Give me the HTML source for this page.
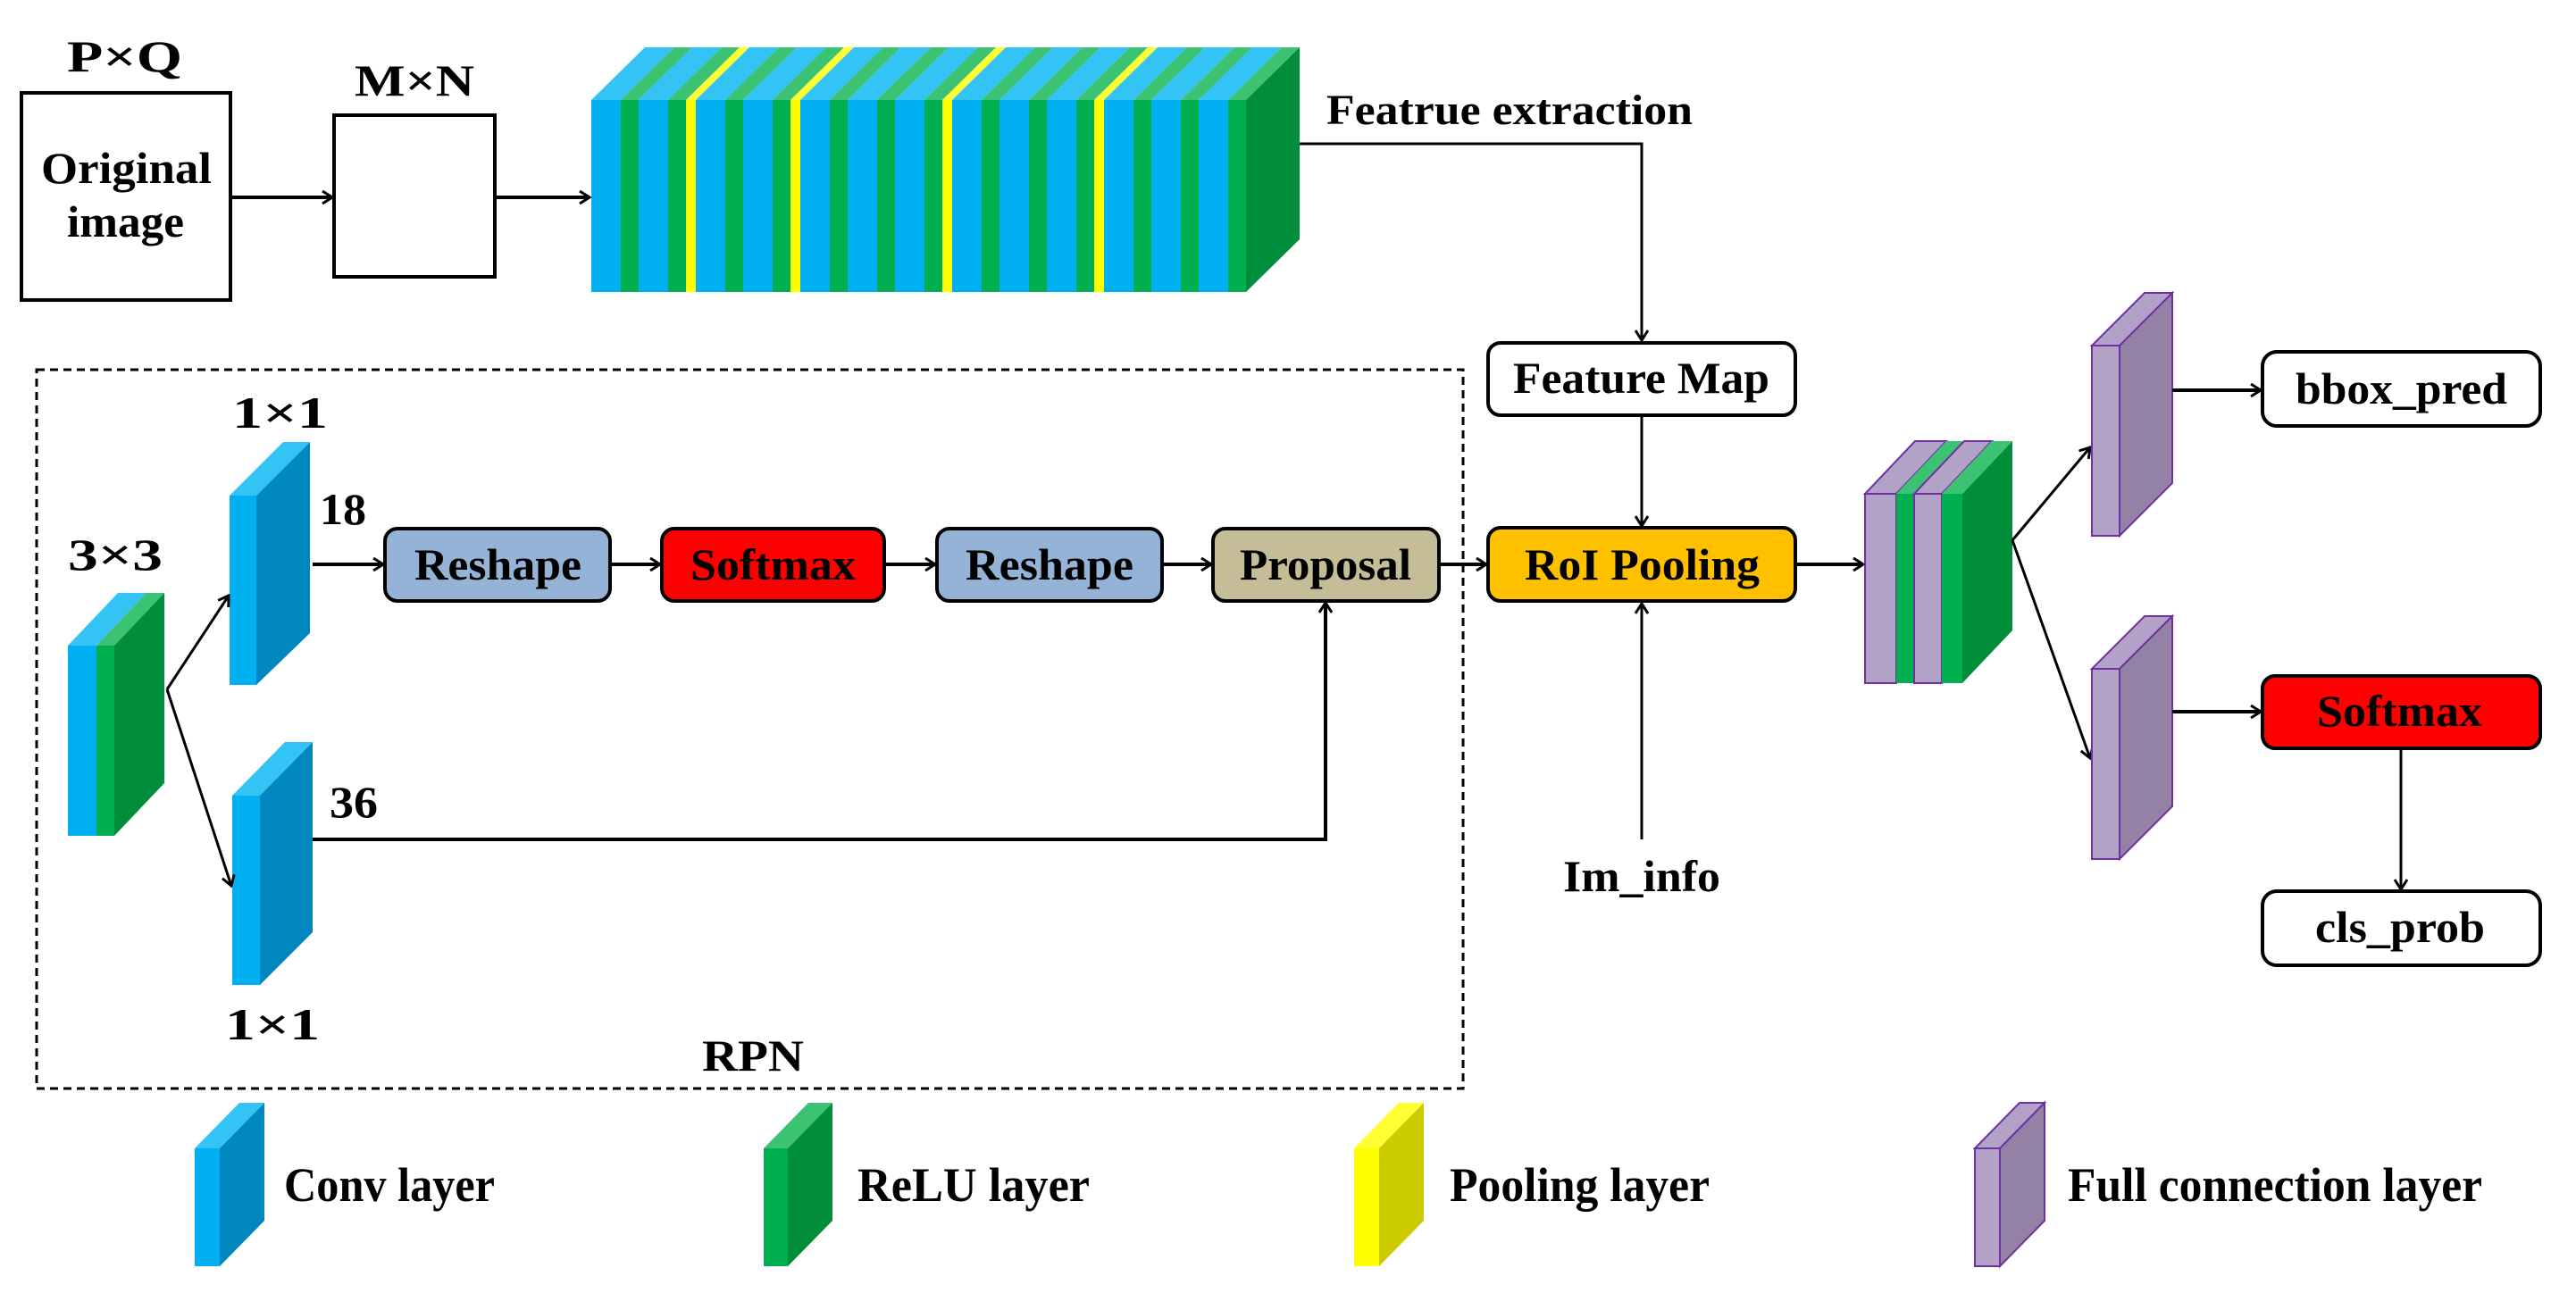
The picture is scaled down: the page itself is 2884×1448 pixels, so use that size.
<!DOCTYPE html>
<html><head><meta charset="utf-8"><style>
html,body{margin:0;padding:0;background:#fff;}
svg{display:block;}
text{font-family:"Liberation Serif",serif;font-weight:bold;fill:#000;}
</style></head><body>
<svg width="2884" height="1448" viewBox="0 0 2884 1448" xmlns="http://www.w3.org/2000/svg">
<defs>
<marker id="a" markerWidth="14" markerHeight="16" refX="12" refY="8" orient="auto" markerUnits="userSpaceOnUse">
<path d="M1,1 L12,8 L1,15" fill="none" stroke="#000" stroke-width="3"/>
</marker>
</defs>

<!-- Top row -->
<text x="75" y="80" font-size="50" textLength="129" lengthAdjust="spacingAndGlyphs">P×Q</text>
<rect x="24" y="104" width="234" height="232" fill="#fff" stroke="#000" stroke-width="4"/>
<text x="46" y="205" font-size="50" textLength="191" lengthAdjust="spacingAndGlyphs">Original</text>
<text x="75" y="265" font-size="50" textLength="131" lengthAdjust="spacingAndGlyphs">image</text>
<line x1="258" y1="221" x2="372" y2="221" stroke="#000" stroke-width="4" marker-end="url(#a)"/>
<text x="397" y="107" font-size="50" textLength="134" lengthAdjust="spacingAndGlyphs">M×N</text>
<rect x="374" y="129" width="180" height="181" fill="#fff" stroke="#000" stroke-width="4"/>
<line x1="554" y1="221" x2="660" y2="221" stroke="#000" stroke-width="4" marker-end="url(#a)"/>

<!-- feature extraction block -->
<g id="fe">
<!-- fronts -->
<g stroke="none">
<rect x="662" y="112" width="33" height="215" fill="#00B0F0"/><rect x="695" y="112" width="20" height="215" fill="#00B050"/>
<rect x="715" y="112" width="33" height="215" fill="#00B0F0"/><rect x="748" y="112" width="20" height="215" fill="#00B050"/>
<rect x="768" y="112" width="11" height="215" fill="#FFFF00"/>
<rect x="779" y="112" width="33" height="215" fill="#00B0F0"/><rect x="812" y="112" width="20" height="215" fill="#00B050"/>
<rect x="832" y="112" width="33" height="215" fill="#00B0F0"/><rect x="865" y="112" width="20" height="215" fill="#00B050"/>
<rect x="885" y="112" width="11" height="215" fill="#FFFF00"/>
<rect x="896" y="112" width="33" height="215" fill="#00B0F0"/><rect x="929" y="112" width="20" height="215" fill="#00B050"/>
<rect x="949" y="112" width="33" height="215" fill="#00B0F0"/><rect x="982" y="112" width="20" height="215" fill="#00B050"/>
<rect x="1002" y="112" width="33" height="215" fill="#00B0F0"/><rect x="1035" y="112" width="20" height="215" fill="#00B050"/>
<rect x="1055" y="112" width="11" height="215" fill="#FFFF00"/>
<rect x="1066" y="112" width="33" height="215" fill="#00B0F0"/><rect x="1099" y="112" width="20" height="215" fill="#00B050"/>
<rect x="1119" y="112" width="33" height="215" fill="#00B0F0"/><rect x="1152" y="112" width="20" height="215" fill="#00B050"/>
<rect x="1172" y="112" width="33" height="215" fill="#00B0F0"/><rect x="1205" y="112" width="20" height="215" fill="#00B050"/>
<rect x="1225" y="112" width="11" height="215" fill="#FFFF00"/>
<rect x="1236" y="112" width="33" height="215" fill="#00B0F0"/><rect x="1269" y="112" width="20" height="215" fill="#00B050"/>
<rect x="1289" y="112" width="33" height="215" fill="#00B0F0"/><rect x="1322" y="112" width="20" height="215" fill="#00B050"/>
<rect x="1342" y="112" width="33" height="215" fill="#00B0F0"/><rect x="1375" y="112" width="20" height="215" fill="#00B050"/>
</g>
<!-- tops -->
<g>
<polygon points="662,112 695,112 755,53 722,53" fill="#33C3F5"/><polygon points="695,112 715,112 775,53 755,53" fill="#3CC273"/>
<polygon points="715,112 748,112 808,53 775,53" fill="#33C3F5"/><polygon points="748,112 768,112 828,53 808,53" fill="#3CC273"/>
<polygon points="768,112 779,112 839,53 828,53" fill="#FFFF33"/>
<polygon points="779,112 812,112 872,53 839,53" fill="#33C3F5"/><polygon points="812,112 832,112 892,53 872,53" fill="#3CC273"/>
<polygon points="832,112 865,112 925,53 892,53" fill="#33C3F5"/><polygon points="865,112 885,112 945,53 925,53" fill="#3CC273"/>
<polygon points="885,112 896,112 956,53 945,53" fill="#FFFF33"/>
<polygon points="896,112 929,112 989,53 956,53" fill="#33C3F5"/><polygon points="929,112 949,112 1009,53 989,53" fill="#3CC273"/>
<polygon points="949,112 982,112 1042,53 1009,53" fill="#33C3F5"/><polygon points="982,112 1002,112 1062,53 1042,53" fill="#3CC273"/>
<polygon points="1002,112 1035,112 1095,53 1062,53" fill="#33C3F5"/><polygon points="1035,112 1055,112 1115,53 1095,53" fill="#3CC273"/>
<polygon points="1055,112 1066,112 1126,53 1115,53" fill="#FFFF33"/>
<polygon points="1066,112 1099,112 1159,53 1126,53" fill="#33C3F5"/><polygon points="1099,112 1119,112 1179,53 1159,53" fill="#3CC273"/>
<polygon points="1119,112 1152,112 1212,53 1179,53" fill="#33C3F5"/><polygon points="1152,112 1172,112 1232,53 1212,53" fill="#3CC273"/>
<polygon points="1172,112 1205,112 1265,53 1232,53" fill="#33C3F5"/><polygon points="1205,112 1225,112 1285,53 1265,53" fill="#3CC273"/>
<polygon points="1225,112 1236,112 1296,53 1285,53" fill="#FFFF33"/>
<polygon points="1236,112 1269,112 1329,53 1296,53" fill="#33C3F5"/><polygon points="1269,112 1289,112 1349,53 1329,53" fill="#3CC273"/>
<polygon points="1289,112 1322,112 1382,53 1349,53" fill="#33C3F5"/><polygon points="1322,112 1342,112 1402,53 1382,53" fill="#3CC273"/>
<polygon points="1342,112 1375,112 1435,53 1402,53" fill="#33C3F5"/><polygon points="1375,112 1395,112 1455,53 1435,53" fill="#3CC273"/>
</g>
<polygon points="1395,112 1455,53 1455,268 1395,327" fill="#008E3A"/>
</g>

<text x="1485" y="139" font-size="48" textLength="410" lengthAdjust="spacingAndGlyphs">Featrue extraction</text>
<polyline points="1455,161 1838,161 1838,381" fill="none" stroke="#000" stroke-width="3" marker-end="url(#a)"/>

<!-- Feature map, RoI -->
<rect x="1666" y="384" width="344" height="81" rx="14" fill="#fff" stroke="#000" stroke-width="4"/>
<text x="1694" y="440" font-size="50" textLength="287" lengthAdjust="spacingAndGlyphs">Feature Map</text>
<line x1="1838" y1="465" x2="1838" y2="589" stroke="#000" stroke-width="3" marker-end="url(#a)"/>
<rect x="1666" y="591" width="344" height="82" rx="14" fill="#FFC000" stroke="#000" stroke-width="4"/>
<text x="1707" y="649" font-size="50" textLength="263" lengthAdjust="spacingAndGlyphs">RoI Pooling</text>
<line x1="1838" y1="940" x2="1838" y2="676" stroke="#000" stroke-width="3" marker-end="url(#a)"/>
<text x="1750" y="998" font-size="50" textLength="176" lengthAdjust="spacingAndGlyphs">Im_info</text>
<line x1="2010" y1="632" x2="2086" y2="632" stroke="#000" stroke-width="4" marker-end="url(#a)"/>

<!-- FC+ReLU block -->
<rect x="2088" y="553" width="35" height="212" fill="#B3A2C7" stroke="#7030A0" stroke-width="2"/>
<rect x="2123" y="553" width="20" height="212" fill="#00B050"/>
<rect x="2143" y="553" width="31" height="212" fill="#B3A2C7" stroke="#7030A0" stroke-width="2"/>
<rect x="2174" y="553" width="23" height="212" fill="#00B050"/>
<polygon points="2088,553 2123,553 2179,494 2144,494" fill="#B3A2C7" stroke="#7030A0" stroke-width="2"/>
<polygon points="2123,553 2143,553 2199,494 2179,494" fill="#3CC273"/>
<polygon points="2143,553 2174,553 2230,494 2199,494" fill="#B3A2C7" stroke="#7030A0" stroke-width="2"/>
<polygon points="2174,553 2197,553 2253,494 2230,494" fill="#3CC273"/>
<polygon points="2197,553 2253,494 2253,706 2197,765" fill="#008E3A"/>

<line x1="2253" y1="605" x2="2340" y2="501" stroke="#000" stroke-width="3" marker-end="url(#a)"/>
<line x1="2253" y1="605" x2="2340" y2="849" stroke="#000" stroke-width="3" marker-end="url(#a)"/>

<!-- FC upper -->
<polygon points="2342,387 2373,387 2432,328 2401,328" fill="#B3A2C7" stroke="#7030A0" stroke-width="2"/>
<polygon points="2373,387 2432,328 2432,541 2373,600" fill="#9382A6" stroke="#7030A0" stroke-width="2"/>
<rect x="2342" y="387" width="31" height="213" fill="#B3A2C7" stroke="#7030A0" stroke-width="2"/>
<!-- FC lower -->
<polygon points="2342,749 2373,749 2432,690 2401,690" fill="#B3A2C7" stroke="#7030A0" stroke-width="2"/>
<polygon points="2373,749 2432,690 2432,903 2373,962" fill="#9382A6" stroke="#7030A0" stroke-width="2"/>
<rect x="2342" y="749" width="31" height="213" fill="#B3A2C7" stroke="#7030A0" stroke-width="2"/>

<line x1="2432" y1="437" x2="2531" y2="437" stroke="#000" stroke-width="4" marker-end="url(#a)"/>
<rect x="2533" y="394" width="311" height="83" rx="16" fill="#fff" stroke="#000" stroke-width="4"/>
<text x="2570" y="452" font-size="50" textLength="237" lengthAdjust="spacingAndGlyphs">bbox_pred</text>
<line x1="2432" y1="797" x2="2531" y2="797" stroke="#000" stroke-width="4" marker-end="url(#a)"/>
<rect x="2533" y="757" width="311" height="81" rx="14" fill="#FF0000" stroke="#000" stroke-width="4"/>
<text x="2594" y="813" font-size="50" textLength="185" lengthAdjust="spacingAndGlyphs">Softmax</text>
<line x1="2688" y1="838" x2="2688" y2="996" stroke="#000" stroke-width="3" marker-end="url(#a)"/>
<rect x="2533" y="998" width="311" height="83" rx="16" fill="#fff" stroke="#000" stroke-width="4"/>
<text x="2592" y="1055" font-size="50" textLength="190" lengthAdjust="spacingAndGlyphs">cls_prob</text>

<!-- RPN -->
<rect x="41" y="414" width="1597" height="805" fill="none" stroke="#000" stroke-width="3" stroke-dasharray="9,6"/>
<text x="76" y="638" font-size="50" textLength="106" lengthAdjust="spacingAndGlyphs">3×3</text>
<polygon points="76,723 108,723 164,664 132,664" fill="#33C3F5"/>
<polygon points="108,723 128,723 184,664 164,664" fill="#3CC273"/>
<rect x="76" y="723" width="32" height="213" fill="#00B0F0"/>
<rect x="108" y="723" width="20" height="213" fill="#00B050"/>
<polygon points="128,723 184,664 184,877 128,936" fill="#008E3A"/>

<text x="260" y="479" font-size="50" textLength="107" lengthAdjust="spacingAndGlyphs">1×1</text>
<polygon points="257,555 287,555 347,495 317,495" fill="#33C3F5"/>
<rect x="257" y="555" width="30" height="212" fill="#00B0F0"/>
<polygon points="287,555 347,495 347,709 287,767" fill="#0087C0"/>
<text x="358" y="587" font-size="50" textLength="52" lengthAdjust="spacingAndGlyphs">18</text>

<polygon points="260,891 291,891 350,831 319,831" fill="#33C3F5"/>
<rect x="260" y="891" width="31" height="212" fill="#00B0F0"/>
<polygon points="291,891 350,831 350,1044 291,1103" fill="#0087C0"/>
<text x="369" y="915" font-size="50" textLength="54" lengthAdjust="spacingAndGlyphs">36</text>
<text x="252" y="1164" font-size="50" textLength="106" lengthAdjust="spacingAndGlyphs">1×1</text>
<text x="786" y="1199" font-size="50" textLength="114" lengthAdjust="spacingAndGlyphs">RPN</text>

<line x1="187" y1="772" x2="256" y2="667" stroke="#000" stroke-width="3" marker-end="url(#a)"/>
<line x1="187" y1="772" x2="259" y2="992" stroke="#000" stroke-width="3" marker-end="url(#a)"/>

<line x1="350" y1="632" x2="429" y2="632" stroke="#000" stroke-width="4" marker-end="url(#a)"/>
<rect x="431" y="592" width="252" height="81" rx="14" fill="#95B3D7" stroke="#000" stroke-width="4"/>
<text x="464" y="649" font-size="50" textLength="187" lengthAdjust="spacingAndGlyphs">Reshape</text>
<line x1="683" y1="632" x2="739" y2="632" stroke="#000" stroke-width="4" marker-end="url(#a)"/>
<rect x="741" y="592" width="249" height="81" rx="14" fill="#FF0000" stroke="#000" stroke-width="4"/>
<text x="773" y="649" font-size="50" textLength="185" lengthAdjust="spacingAndGlyphs">Softmax</text>
<line x1="990" y1="632" x2="1047" y2="632" stroke="#000" stroke-width="4" marker-end="url(#a)"/>
<rect x="1049" y="592" width="252" height="81" rx="14" fill="#95B3D7" stroke="#000" stroke-width="4"/>
<text x="1081" y="649" font-size="50" textLength="188" lengthAdjust="spacingAndGlyphs">Reshape</text>
<line x1="1301" y1="632" x2="1356" y2="632" stroke="#000" stroke-width="4" marker-end="url(#a)"/>
<rect x="1358" y="592" width="253" height="81" rx="14" fill="#C4BD97" stroke="#000" stroke-width="4"/>
<text x="1388" y="649" font-size="50" textLength="192" lengthAdjust="spacingAndGlyphs">Proposal</text>
<line x1="1611" y1="632" x2="1664" y2="632" stroke="#000" stroke-width="4" marker-end="url(#a)"/>
<polyline points="350,940 1484,940 1484,675" fill="none" stroke="#000" stroke-width="4" marker-end="url(#a)"/>

<!-- Legend -->
<g>
<polygon points="218,1286 246,1286 296,1235 268,1235" fill="#33C3F5"/>
<rect x="218" y="1286" width="28" height="132" fill="#00B0F0"/>
<polygon points="246,1286 296,1235 296,1367 246,1418" fill="#0087C0"/>
<text x="318" y="1345" font-size="54" textLength="236" lengthAdjust="spacingAndGlyphs">Conv layer</text>

<polygon points="855,1286 882,1286 932,1235 905,1235" fill="#3CC273"/>
<rect x="855" y="1286" width="27" height="132" fill="#00B050"/>
<polygon points="882,1286 932,1235 932,1367 882,1418" fill="#008E3A"/>
<text x="960" y="1345" font-size="54" textLength="260" lengthAdjust="spacingAndGlyphs">ReLU layer</text>

<polygon points="1516,1286 1544,1286 1594,1235 1566,1235" fill="#FFFF33"/>
<rect x="1516" y="1286" width="28" height="132" fill="#FFFF00"/>
<polygon points="1544,1286 1594,1235 1594,1367 1544,1418" fill="#CCCC00"/>
<text x="1623" y="1345" font-size="54" textLength="291" lengthAdjust="spacingAndGlyphs">Pooling layer</text>

<polygon points="2211,1286 2239,1286 2289,1235 2261,1235" fill="#B3A2C7" stroke="#7030A0" stroke-width="2"/>
<rect x="2211" y="1286" width="28" height="132" fill="#B3A2C7" stroke="#7030A0" stroke-width="2"/>
<polygon points="2239,1286 2289,1235 2289,1367 2239,1418" fill="#9382A6" stroke="#7030A0" stroke-width="2"/>
<text x="2315" y="1345" font-size="54" textLength="464" lengthAdjust="spacingAndGlyphs">Full connection layer</text>
</g>
</svg>
</body></html>
